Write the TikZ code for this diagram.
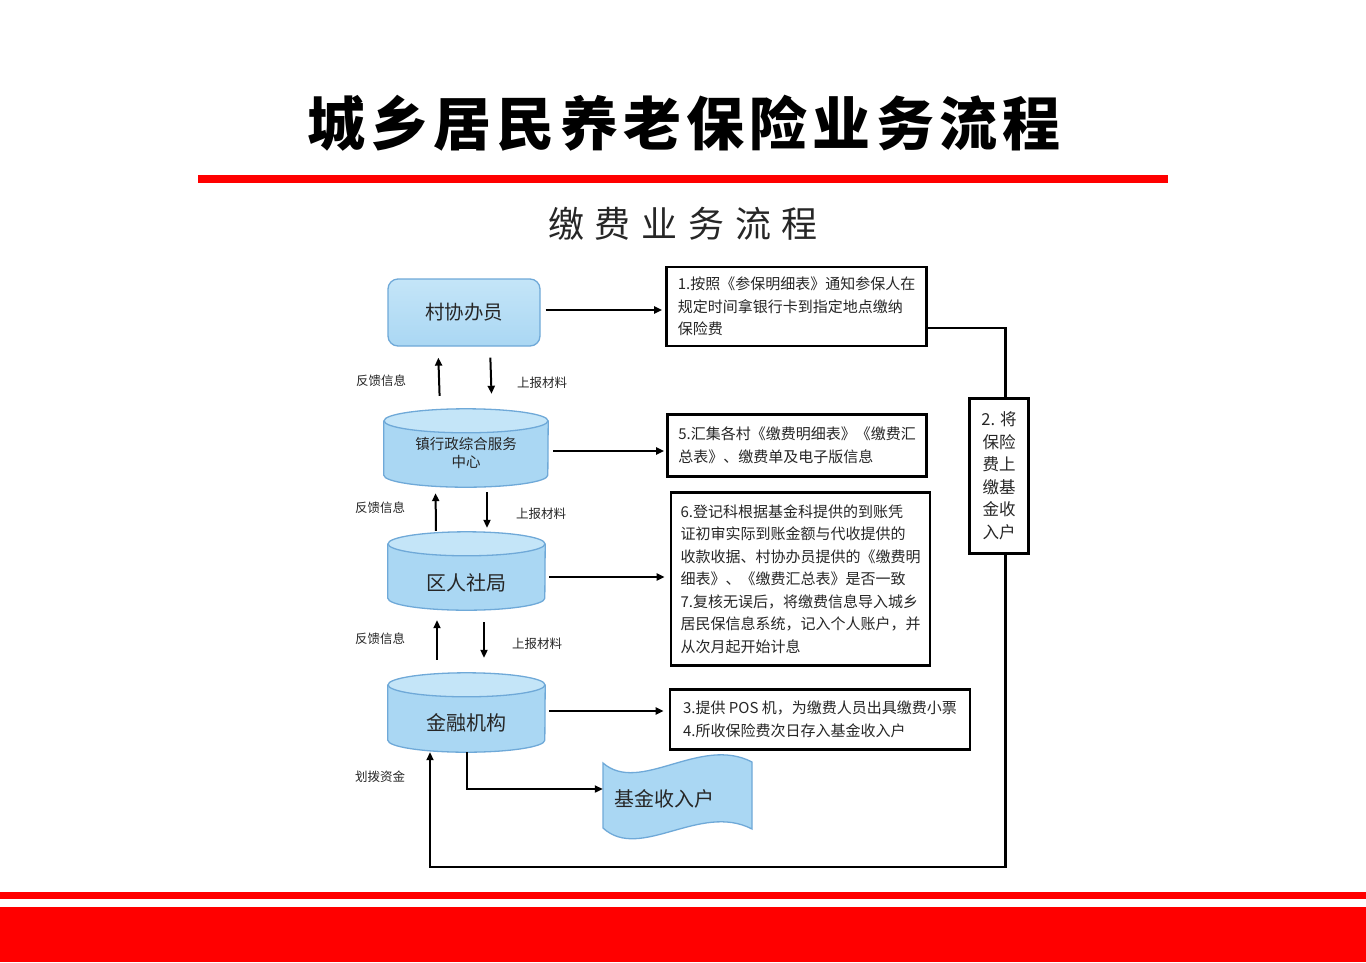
\documentclass[tikz,border=0pt]{standalone}
\usepackage{fontspec}
\setmainfont{Noto Sans CJK SC}
\usetikzlibrary{arrows.meta,backgrounds,calc}
\definecolor{cylfill}{HTML}{AAD7F3}
\definecolor{cyltop}{HTML}{C4E5F8}
\definecolor{cylline}{HTML}{6FA9D8}
\definecolor{bannerred}{HTML}{FF0000}
\definecolor{txt}{HTML}{262626}
\newcommand\drawcyl[2]{%
  \begin{scope}[on background layer]
    \fill[cylfill] ([yshift=-12pt]#1.north west) -- ([yshift=12pt]#1.south west)
      arc[start angle=180,end angle=360,x radius=#2pt,y radius=12pt]
      -- ([yshift=-12pt]#1.north east) -- cycle;
    \fill[cyltop] ([yshift=-12pt]#1.north) ellipse[x radius=#2pt,y radius=12pt];
    \draw[cylline,line width=1.3pt] ([yshift=-12pt]#1.north west) -- ([yshift=12pt]#1.south west)
      arc[start angle=180,end angle=360,x radius=#2pt,y radius=12pt]
      -- ([yshift=-12pt]#1.north east);
    \draw[cylline,line width=1.3pt] ([yshift=-12pt]#1.north) ellipse[x radius=#2pt,y radius=12pt];
  \end{scope}}
\begin{document}
\begin{tikzpicture}[x=1pt,y=-1pt,
  infobox/.style={draw=black,line width=2.6pt,fill=white,text=txt,align=left,inner sep=0pt,
    font=\fontsize{15}{22.5}\selectfont},
  cylnode/.style={inner sep=0pt,text=txt},
  lbl/.style={text=txt,font=\fontsize{12.5}{14}\selectfont,inner sep=0pt},
  arr/.style={line width=2pt,-{Triangle[length=8pt,width=7pt]}},
  conn/.style={line width=2.4pt}]
\useasboundingbox (0,0) rectangle (1366,962);
\begin{scope}[on background layer]
\fill[white] (0,0) rectangle (1366,962);
\end{scope}
% banners
\fill[bannerred] (198,175) rectangle (1168,183);
\fill[bannerred] (0,892) rectangle (1366,899);
\fill[bannerred] (0,907) rectangle (1366,962);
% titles
\node[inner sep=0pt] (title) at (684,123) {\fontsize{58}{60}\selectfont\bfseries\addfontfeature{LetterSpace=9}城乡居民养老保险业务流程};
\node[inner sep=0pt,text=txt] (subtitle) at (683,224) {\fontsize{36}{40}\selectfont\addfontfeature{LetterSpace=30}缴费业务流程};
% left column
\node[cylnode,minimum width=152pt,minimum height=67pt,rounded corners=10pt,draw=cylline,line width=1.3pt,
  top color=cyltop,bottom color=cylfill,font=\fontsize{19.5}{22}\selectfont] (cun) at (464,312.5) {村协办员};
\node[cylnode,minimum width=164pt,minimum height=78pt,font=\fontsize{14.5}{18}\selectfont] (zhen) at (466,448) {\raisebox{-10.5pt}[0pt][0pt]{\begin{tabular}{@{}c@{}}镇行政综合服务\\中心\end{tabular}}};
\node[cylnode,minimum width=157pt,minimum height=78pt,font=\fontsize{20}{22}\selectfont] (qu) at (466.5,571) {\raisebox{-19.5pt}[0pt][0pt]{区人社局}};
\node[cylnode,minimum width=157pt,minimum height=79pt,font=\fontsize{20}{22}\selectfont] (jr) at (466.5,712.5) {\raisebox{-18pt}[0pt][0pt]{金融机构}};
\drawcyl{zhen}{82}
\drawcyl{qu}{78.5}
\drawcyl{jr}{78.5}
% fund account (tape)
\node[cylnode,minimum width=149pt,minimum height=78pt,text width=127pt,align=left,font=\fontsize{20}{22}\selectfont] (jijin) at (677.5,799) {基金收入户};
\begin{scope}[on background layer]
\filldraw[fill=cylfill,draw=cylline,line width=1.3pt] (603,763) .. controls (640,795) and (700,735) .. (752,762)
  -- (752,829) .. controls (700,802) and (640,862) .. (603,828) -- cycle;
\end{scope}
% right boxes
\node[infobox,minimum width=260pt,minimum height=79pt] (box1) at (796.5,306.5) {1.按照《参保明细表》通知参保人在\\规定时间拿银行卡到指定地点缴纳\\保险费};
\node[infobox,minimum width=259pt,minimum height=62pt] (box5) at (797,445.5) {5.汇集各村《缴费明细表》《缴费汇\\总表》、缴费单及电子版信息};
\node[infobox,minimum width=259pt,minimum height=173pt] (box6) at (800.5,579) {6.登记科根据基金科提供的到账凭\\证初审实际到账金额与代收提供的\\收款收据、村协办员提供的《缴费明\\细表》、《缴费汇总表》是否一致\\7.复核无误后，将缴费信息导入城乡\\居民保信息系统，记入个人账户，并\\从次月起开始计息};
\node[infobox,minimum width=300pt,minimum height=60pt] (box3) at (820,719.5) {3.提供 POS 机，为缴费人员出具缴费小票\\4.所收保险费次日存入基金收入户};
\node[infobox,align=center,minimum width=59pt,minimum height=155pt,font=\fontsize{16.5}{22.5}\selectfont] (box2) at (999,476) {2. 将\\保险\\费上\\缴基\\金收\\入户};
% labels
\node[lbl] (fb1) at (381,381) {反馈信息};
\node[lbl] (sb1) at (542,383) {上报材料};
\node[lbl] (fb2) at (380,508) {反馈信息};
\node[lbl] (sb2) at (541,514) {上报材料};
\node[lbl] (fb3) at (380,639) {反馈信息};
\node[lbl] (sb3) at (537,644) {上报材料};
\node[lbl] (hb) at (380,777) {划拨资金};
% vertical arrows
\draw[arr,shorten <=13pt,shorten >=11pt] ([xshift=-26pt]zhen.north) -- ([xshift=-26pt]cun.south);
\draw[arr,shorten <=11pt,shorten >=15pt] ([xshift=26pt]cun.south) -- ([xshift=26pt]zhen.north);
\draw[arr,shorten <=1pt,shorten >=6pt] ([xshift=-30.5pt]qu.north) -- ([xshift=-30.5pt]zhen.south);
\draw[arr,shorten <=5pt,shorten >=4pt] ([xshift=21pt]zhen.south) -- ([xshift=20.5pt]qu.north);
\draw[arr,shorten <=13pt,shorten >=10pt] ([xshift=-29.5pt]jr.north) -- ([xshift=-29.5pt]qu.south);
\draw[arr,shorten <=12pt,shorten >=15pt] ([xshift=17.5pt]qu.south) -- ([xshift=17.5pt]jr.north);
% horizontal arrows
\draw[arr,shorten <=5pt,shorten >=3pt] ([yshift=2.5pt]cun.east) -- ([yshift=2.5pt]cun.east -| box1.west);
\draw[arr,shorten <=5pt,shorten >=2pt] ([yshift=-3pt]zhen.east) -- ([yshift=-3pt]zhen.east -| box5.west);
\draw[arr,shorten <=4pt,shorten >=5pt] ([yshift=-6pt]qu.east) -- ([yshift=-6pt]qu.east -| box6.west);
\draw[arr,shorten <=4pt,shorten >=5pt] ([yshift=1.5pt]jr.east) -- ([yshift=1.5pt]jr.east -| box3.west);
\draw[arr] (jr.south) |- ([yshift=10pt]jijin.west);
% right loop
\coordinate (loopbot) at (0,867);
\draw[conn] ([yshift=-21.5pt]box1.east) -| ([xshift=6.5pt]box2.north);
\draw[arr,line width=2.4pt] ([xshift=6.5pt]box2.south) |- (loopbot -| 430,0) -- ([xshift=-36.5pt]jr.south);
\end{tikzpicture}
\end{document}
